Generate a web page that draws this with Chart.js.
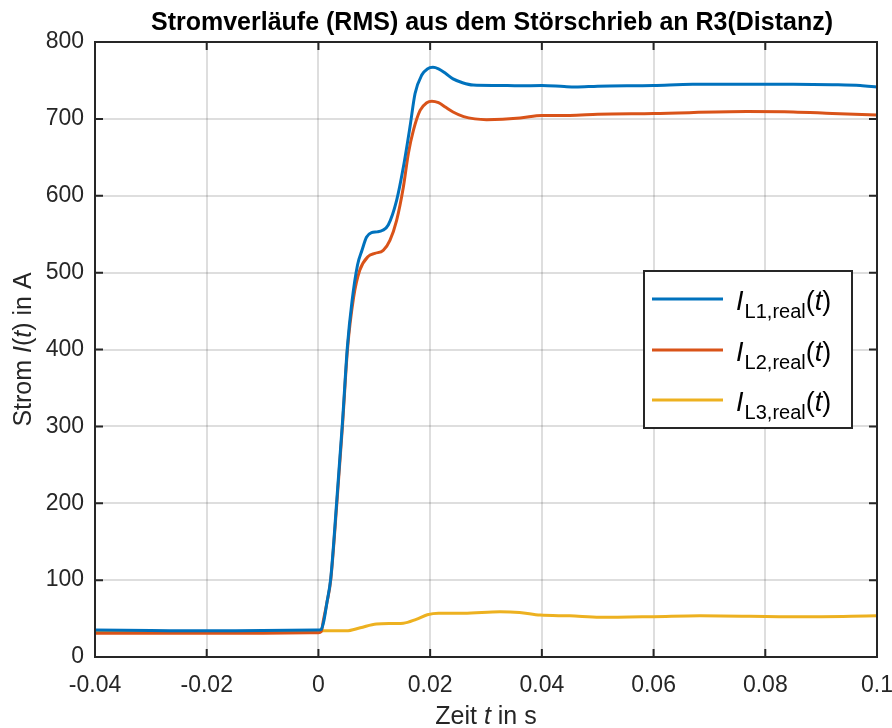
<!DOCTYPE html>
<html>
<head>
<meta charset="utf-8">
<script src="https://cdn.jsdelivr.net/npm/chart.js@4"></script>
<style>
html,body{margin:0;padding:0;background:#fff;}
#wrap{position:relative;width:892px;height:728px;}
</style>
</head>
<body>
<div id="wrap"><canvas id="c" width="892" height="728"></canvas></div>
<script>
// ---- data (time in s, current in A) ----
const tL1 = [-0.04,-0.03,-0.02,-0.01,0,0.0005,0.001,0.0015,0.0022,0.0033,0.0043,0.0052,0.006,0.007,0.0078,0.0086,0.0095,0.0105,0.0115,0.0125,0.014,0.0152,0.0164,0.0173,0.0185,0.0195,0.0205,0.0215,0.0228,0.0241,0.0258,0.0277,0.032,0.036,0.04,0.044,0.046,0.05,0.06,0.067,0.075,0.085,0.092,0.097,0.1];
const iL1 = [35,34.5,34,34.5,35,36,48,70,102,205,305,405,462,510,529,546,552,553,555,562,594,637,690,733,757,765,767,765,759,752,747,744,743.5,743,743.5,742,741.5,742.5,743.5,745,745,745,744.5,743.5,741.5];
const tL2 = [-0.04,-0.03,-0.02,-0.01,0,0.0005,0.0009,0.0015,0.0022,0.0033,0.0043,0.0052,0.0063,0.0074,0.0089,0.0101,0.0116,0.0128,0.014,0.0152,0.0161,0.017,0.0182,0.0194,0.0203,0.0215,0.0228,0.0241,0.026,0.028,0.0301,0.0361,0.04,0.045,0.05,0.06,0.0767,0.085,0.092,0.1];
const iL2 = [31,31,31,31,31.5,33,48,70,100,200,300,400,468,503,521,525,529,542,568,611,655,685,711,721,723,721,715,709,703,700,699,701,704.5,704.5,706,707,709.5,709,707,705];
const tL3 = [-0.04,-0.03,-0.02,-0.01,0,0.005,0.0075,0.0104,0.0152,0.0175,0.0195,0.0215,0.026,0.0325,0.036,0.0397,0.045,0.0504,0.06,0.0683,0.0862,0.1];
const iL3 = [34,33.5,33,33.5,34,34,38,43,44,49,55,57,57,59,58,54.5,53.5,51.6,52.5,53.7,52.4,53.7];
const seriesSubs = ['L1,real','L2,real','L3,real'];
const seriesColors = ['#0072BD','#D95319','#EDB120'];
const titleText = 'Stromverläufe (RMS) aus dem Störschrieb an R3(Distanz)';
const xTicksMin = -0.04, xTicksMax = 0.1, xStep = 0.02;
const yTicksMin = 0, yTicksMax = 800, yStep = 100;

const FONT = "'Liberation Sans', Arial, Helvetica, sans-serif";
const TXT = '#262626';

function pts(t, v){ return t.map((x,i)=>({x:x, y:v[i]})); }

function drawParts(ctx, parts, x, y, align){
  let total = 0;
  parts.forEach(p=>{ ctx.font = p.font; p.w = ctx.measureText(p.text).width; total += p.w; });
  let cx = align==='center' ? x - total/2 : x;
  parts.forEach(p=>{ ctx.font = p.font; ctx.fillText(p.text, cx, y + (p.dy||0)); cx += p.w; });
}

const decorPlugin = {
  id:'decor',
  afterDatasetsDraw(chart){
    const ctx = chart.ctx, a = chart.chartArea;
    const xs = chart.scales.x, ys = chart.scales.y;
    ctx.save();
    ctx.strokeStyle = TXT; ctx.lineWidth = 2;
    ctx.strokeRect(a.left, a.top, a.right-a.left, a.bottom-a.top);
    ctx.beginPath();
    xs.ticks.forEach((t,i)=>{
      const px = xs.getPixelForTick(i);
      ctx.moveTo(px, a.bottom); ctx.lineTo(px, a.bottom-8);
      ctx.moveTo(px, a.top); ctx.lineTo(px, a.top+8);
    });
    ys.ticks.forEach((t,i)=>{
      const py = ys.getPixelForTick(i);
      ctx.moveTo(a.left, py); ctx.lineTo(a.left+8, py);
      ctx.moveTo(a.right, py); ctx.lineTo(a.right-8, py);
    });
    ctx.stroke();

    ctx.fillStyle = '#000';
    ctx.textBaseline = 'alphabetic';
    ctx.font = 'bold 25px ' + FONT;
    ctx.textAlign = 'center';
    ctx.fillText(titleText, (a.left+a.right)/2 + 6, 30);
    ctx.textAlign = 'left';
    ctx.fillStyle = TXT;
    drawParts(ctx, [
      {text:'Zeit ', font:'25px '+FONT},
      {text:'t', font:'italic 25px '+FONT},
      {text:' in s', font:'25px '+FONT}
    ], (a.left+a.right)/2, 724, 'center');
    ctx.save();
    ctx.translate(31, (a.top+a.bottom)/2);
    ctx.rotate(-Math.PI/2);
    drawParts(ctx, [
      {text:'Strom ', font:'25px '+FONT},
      {text:'I', font:'italic 25px '+FONT},
      {text:'(', font:'25px '+FONT},
      {text:'t', font:'italic 25px '+FONT},
      {text:') in A', font:'25px '+FONT}
    ], 0, 0, 'center');
    ctx.restore();

    // legend
    const lx = 644, ly = 271, lw = 208, lh = 157;
    ctx.fillStyle = '#fff';
    ctx.fillRect(lx, ly, lw, lh);
    ctx.strokeStyle = TXT; ctx.lineWidth = 2;
    ctx.strokeRect(lx, ly, lw, lh);
    const rowY = [299, 350, 400];
    chart.data.datasets.forEach((ds, i)=>{
      const y = rowY[i];
      ctx.strokeStyle = ds.borderColor; ctx.lineWidth = 3;
      ctx.beginPath(); ctx.moveTo(652, y); ctx.lineTo(723, y); ctx.stroke();
      ctx.fillStyle = '#000';
      drawParts(ctx, [
        {text:'I', font:'italic 27px '+FONT, dy:11},
        {text:' ', font:'4px '+FONT, dy:11},
        {text:seriesSubs[i], font:'20px '+FONT, dy:19},
        {text:'(', font:'27px '+FONT, dy:11},
        {text:'t', font:'italic 27px '+FONT, dy:11},
        {text:')', font:'27px '+FONT, dy:11}
      ], 736, y, 'left');
    });
    ctx.restore();
  }
};

const datasets = [
  {label:'I_L1,real(t)', data:pts(tL1,iL1), borderColor:seriesColors[0]},
  {label:'I_L2,real(t)', data:pts(tL2,iL2), borderColor:seriesColors[1]},
  {label:'I_L3,real(t)', data:pts(tL3,iL3), borderColor:seriesColors[2]}
].map(d=>Object.assign(d,{borderWidth:3, pointRadius:0, fill:false, cubicInterpolationMode:'monotone'}));

new Chart(document.getElementById('c'), {
  type:'line',
  data:{datasets:datasets},
  options:{
    responsive:false, animation:false,
    layout:{padding:{left:0, right:15, top:42, bottom:0}},
    plugins:{legend:{display:false}, title:{display:false}, tooltip:{enabled:false}},
    scales:{
      x:{type:'linear', min:xTicksMin, max:xTicksMax,
         afterFit(s){ s.height = 71; s.paddingLeft = 0; s.paddingRight = 0; },
         afterBuildTicks(s){ const t=[]; for(let v=xTicksMin; v<=xTicksMax+1e-9; v+=xStep) t.push({value:Math.round(v*100)/100}); s.ticks=t; },
         ticks:{color:TXT, font:{family:FONT, size:23}, padding:15, maxRotation:0,
                callback:v=>String(Math.round(v*100)/100)},
         grid:{color:'rgba(0,0,0,0.13)', lineWidth:2, drawTicks:false},
         border:{display:false}},
      y:{min:yTicksMin, max:yTicksMax,
         afterFit(s){ s.width = 95; s.paddingTop = 0; s.paddingBottom = 0; },
         ticks:{stepSize:yStep, color:TXT, font:{family:FONT, size:23}, padding:11},
         grid:{color:'rgba(0,0,0,0.13)', lineWidth:2, drawTicks:false},
         border:{display:false}}
    }
  },
  plugins:[decorPlugin]
});
</script>
</body>
</html>
